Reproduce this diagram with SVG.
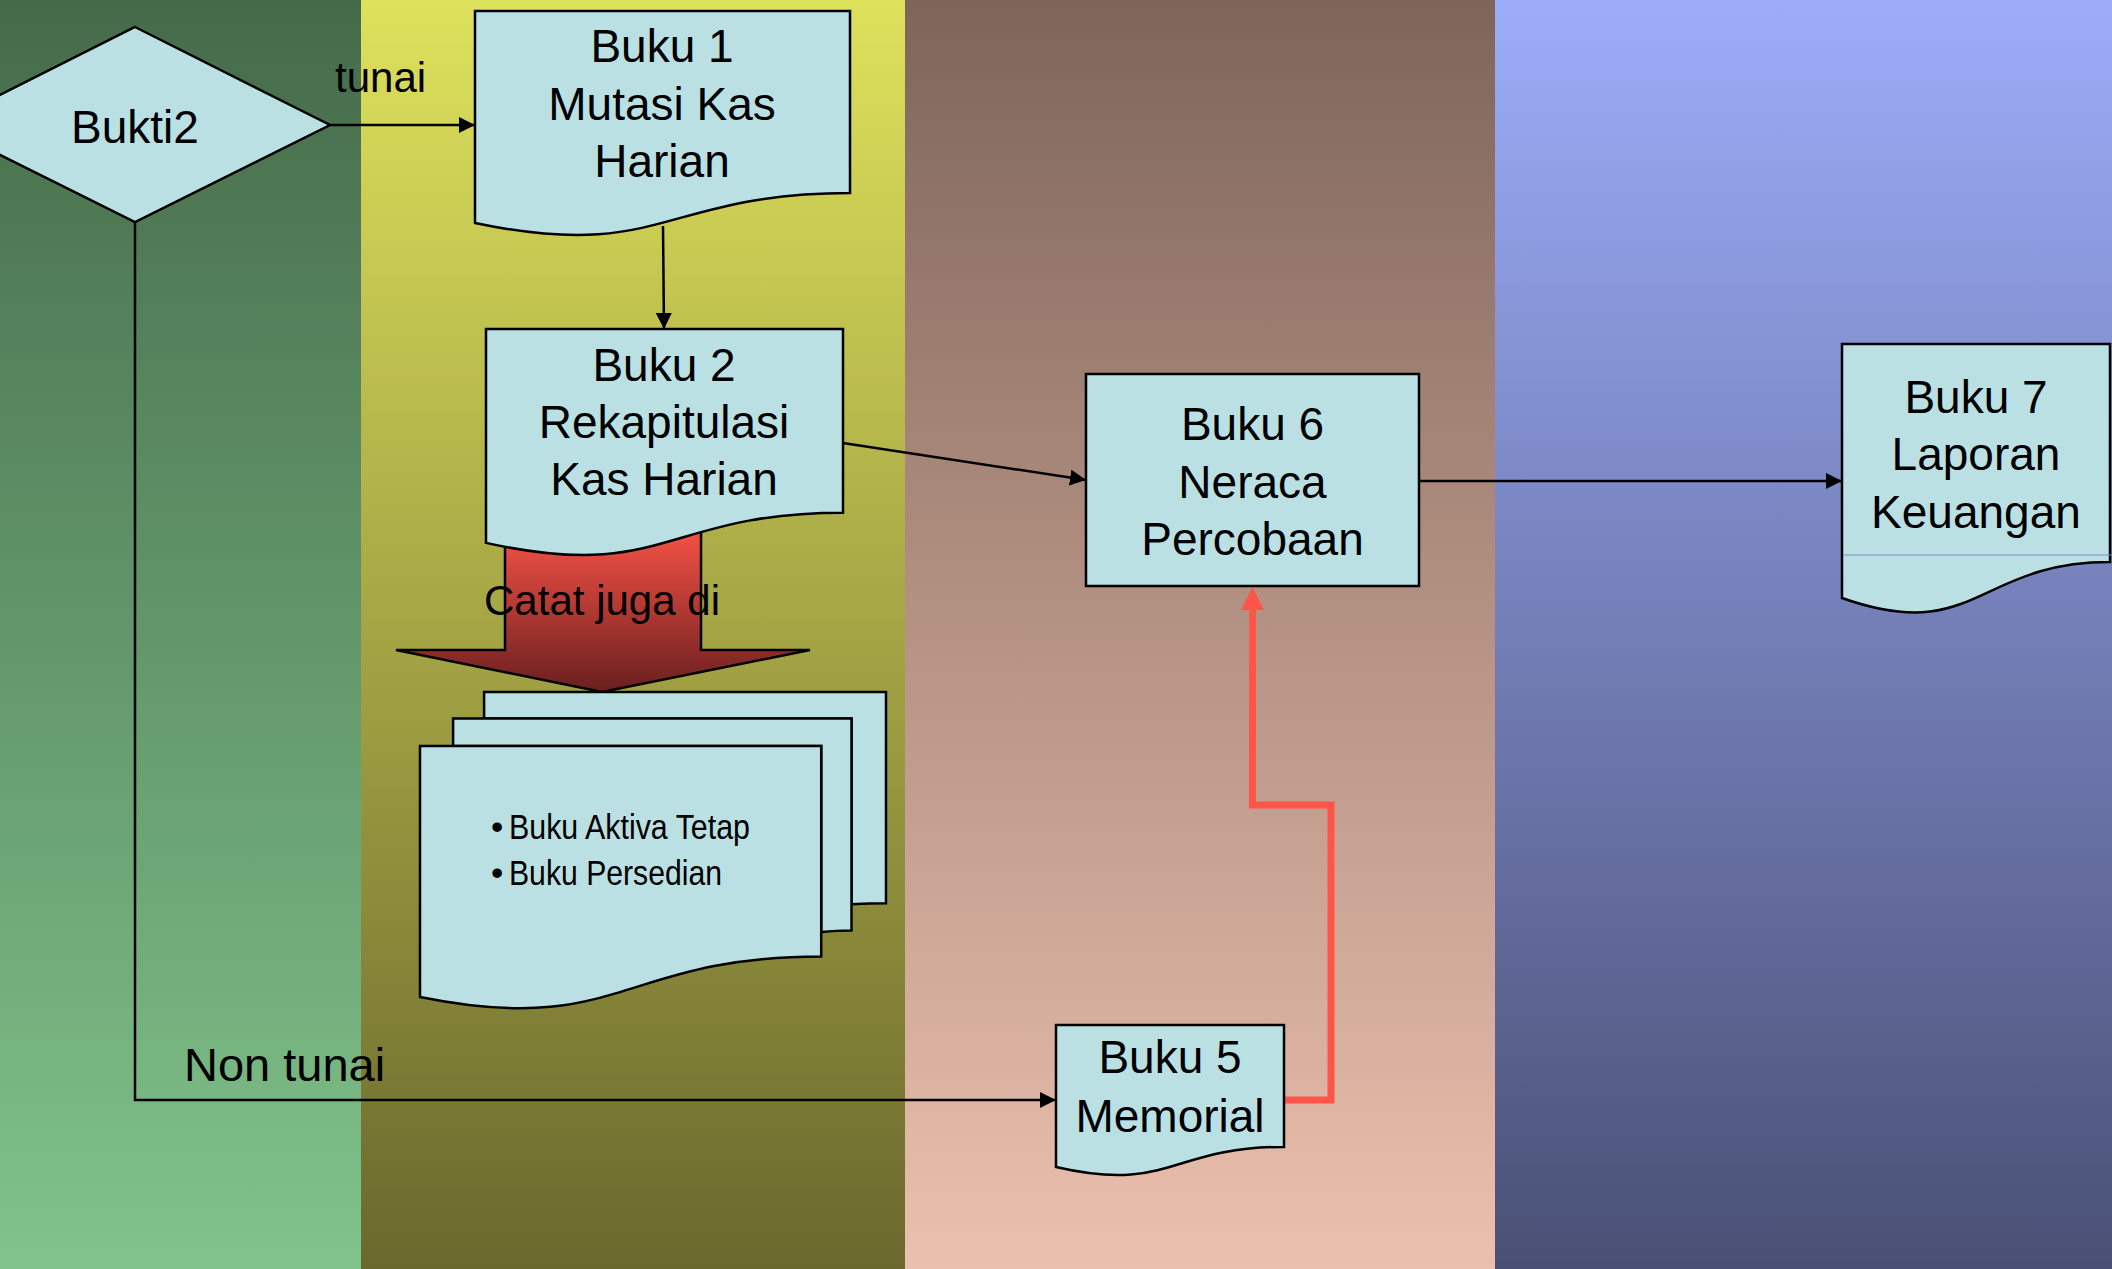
<svg xmlns="http://www.w3.org/2000/svg" width="2112" height="1269" viewBox="0 0 2112 1269">
<defs>
<linearGradient id="g1" x1="0" y1="0" x2="0" y2="1"><stop offset="0" stop-color="#456a4a"/><stop offset="1" stop-color="#80c38b"/></linearGradient>
<linearGradient id="g2" x1="0" y1="0" x2="0" y2="1"><stop offset="0" stop-color="#dee15b"/><stop offset="1" stop-color="#6a682d"/></linearGradient>
<linearGradient id="g3" x1="0" y1="0" x2="0" y2="1"><stop offset="0" stop-color="#7e655a"/><stop offset="1" stop-color="#ecc0ae"/></linearGradient>
<linearGradient id="g4" x1="0" y1="0" x2="0" y2="1"><stop offset="0" stop-color="#9cacf8"/><stop offset="1" stop-color="#4a5075"/></linearGradient>
<linearGradient id="gr" x1="0" y1="0" x2="0" y2="1"><stop offset="0" stop-color="#ff5548"/><stop offset="1" stop-color="#6a1f1f"/></linearGradient>
<marker id="ah" markerUnits="userSpaceOnUse" markerWidth="16" markerHeight="16" viewBox="0 0 16 16" refX="16" refY="8" orient="auto"><path d="M0,0 L16,8 L0,16 Z" fill="#000"/></marker>
<style>
.node{fill:#bbe0e3;stroke:#000;stroke-width:2.5}
.t{font-family:"Liberation Sans",Arial,Helvetica,sans-serif;font-size:46px;fill:#000;text-anchor:middle}
.lbl{font-family:"Liberation Sans",Arial,Helvetica,sans-serif;fill:#000}
.conn{fill:none;stroke:#000;stroke-width:2.5}
</style>
</defs>
<g id="background">
<rect x="0" y="0" width="361" height="1269" fill="url(#g1)"/>
<rect x="361" y="0" width="544" height="1269" fill="url(#g2)"/>
<rect x="905" y="0" width="590" height="1269" fill="url(#g3)"/>
<rect x="1495" y="0" width="617" height="1269" fill="url(#g4)"/>
</g>
<g id="catat-arrow">
<path d="M505,520 H701 V650 H810 L602,692 L396,650 H505 Z" fill="url(#gr)" stroke="#000" stroke-width="2.5"/>
</g>
<g id="connectors">
<path class="conn" d="M330,125 H475" marker-end="url(#ah)"/>
<path class="conn" d="M663,226 L664,329" marker-end="url(#ah)"/>
<path class="conn" d="M843,443 L1086,480" marker-end="url(#ah)"/>
<path class="conn" d="M1419,481 H1842" marker-end="url(#ah)"/>
<path class="conn" d="M135,222 V1100 H1056" marker-end="url(#ah)"/>
<path d="M1284,1100 H1331 V805 H1252.5 V609" fill="none" stroke="#ff5548" stroke-width="7"/>
<polygon points="1252.5,587 1241,610 1264,610" fill="#ff5548"/>
<text class="lbl" x="335" y="92" font-size="42">tunai</text>
<text class="lbl" x="184" y="1081" font-size="47">Non tunai</text>
</g>
<g id="bukti2">
<polygon class="node" points="135,27 330,125 135,222 -60,125"/>
<text class="t" x="135" y="143" font-size="47">Bukti2</text>
</g>
<g id="buku1">
<path class="node" d="M475,11 H850 V193.1 C662.5,193.1 662.5,262.4 475,223 Z"/>
<text class="t" x="662" y="62">Buku 1</text>
<text class="t" x="662" y="120">Mutasi Kas</text>
<text class="t" x="662" y="177">Harian</text>
</g>
<g id="buku2">
<path class="node" d="M486,329 H843 V512.7 C664.5,512.7 664.5,582.6 486,542.9 Z"/>
<text class="t" x="664" y="381">Buku 2</text>
<text class="t" x="664" y="438">Rekapitulasi</text>
<text class="t" x="664" y="495">Kas Harian</text>
</g>
<g id="catat-label">
<text class="lbl" x="484" y="615" font-size="42" textLength="236" lengthAdjust="spacingAndGlyphs">Catat juga di</text>
</g>
<g id="buku-lain">
<path class="node" d="M484.1,718.6 V692 H886 V903.2 C868.7,903.2 851.5,904.3 851.5,904.3 V718.6 Z"/>
<path class="node" d="M453.1,745.9 V718.6 H851.5 V930.5 C836.3,930.5 821.2,932 821.2,932 V745.9 Z"/>
<path class="node" d="M420,745.9 H821.2 V956.5 C620.6,956.5 620.6,1037.5 420,997 Z"/>
<text class="lbl" x="491" y="839" font-size="35">•</text>
<text class="lbl" x="509" y="839" font-size="35" textLength="241" lengthAdjust="spacingAndGlyphs">Buku Aktiva Tetap</text>
<text class="lbl" x="491" y="885" font-size="35">•</text>
<text class="lbl" x="509" y="885" font-size="35" textLength="213" lengthAdjust="spacingAndGlyphs">Buku Persedian</text>
</g>
<g id="buku6">
<rect class="node" x="1086" y="374" width="333" height="212"/>
<text class="t" x="1252.5" y="440">Buku 6</text>
<text class="t" x="1252.5" y="498">Neraca</text>
<text class="t" x="1252.5" y="555">Percobaan</text>
</g>
<g id="buku5">
<path class="node" d="M1056,1025 H1284 V1146.9 C1170,1146.9 1170,1193.3 1056,1167 Z"/>
<text class="t" x="1170" y="1073">Buku 5</text>
<text class="t" x="1170" y="1132">Memorial</text>
</g>
<g id="buku7">
<path class="node" d="M1842,344 H2110 V562.1 C1976,562.1 1976,645.2 1842,598 Z"/>
<line x1="1843" y1="555" x2="2112" y2="555" stroke="#8090cc" stroke-width="1.2"/>
<text class="t" x="1976" y="413">Buku 7</text>
<text class="t" x="1976" y="470">Laporan</text>
<text class="t" x="1976" y="528">Keuangan</text>
</g>
</svg>
